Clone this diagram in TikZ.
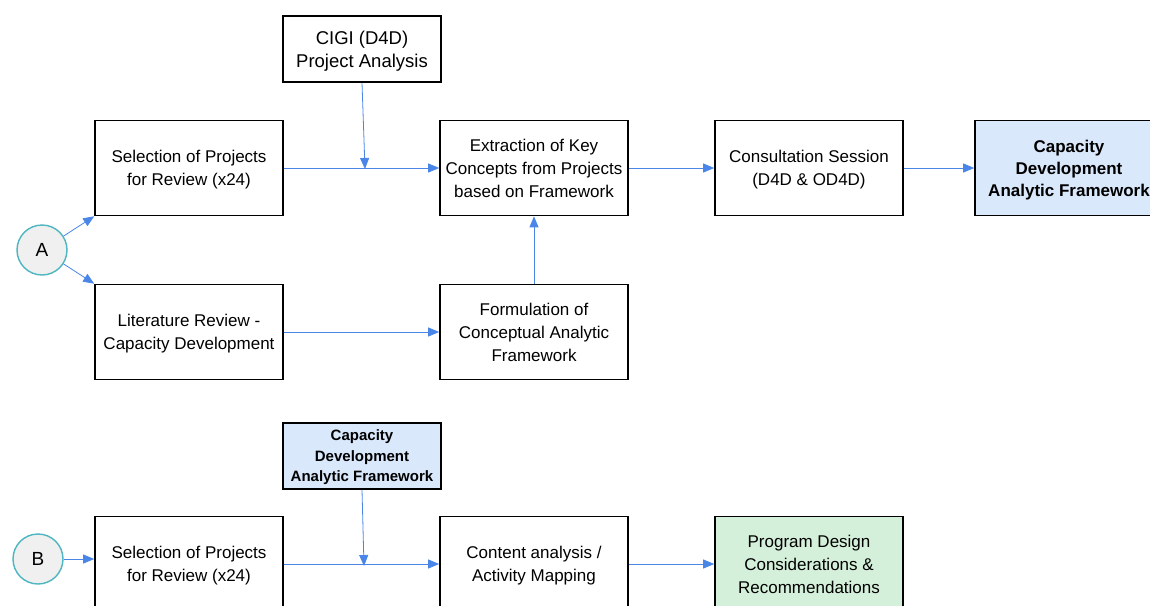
\documentclass[tikz,border=0pt]{standalone}
\usepackage{fontspec}
\setmainfont{Liberation Sans}
\usetikzlibrary{arrows.meta}
\definecolor{flowblue}{HTML}{4A86E8}
\definecolor{ringteal}{HTML}{4DB6C0}
\definecolor{paleblue}{HTML}{DAE8FC}
\definecolor{palegreen}{HTML}{D5F0DA}

\begin{document}
\begin{tikzpicture}[x=1pt, y=-1pt,
  every node/.style={font=\fontsize{17}{23}\selectfont, align=center},
  box/.style={draw, line width=1.6pt, minimum width=188pt, minimum height=95pt, inner sep=2pt},
  smallbox/.style={draw, line width=1.6pt, minimum width=158pt, minimum height=66pt, inner sep=2pt},
  lowered/.style={text depth=-8pt},
  start/.style={draw=ringteal, fill=gray!12, circle, line width=1.4pt, minimum size=50pt, inner sep=0pt, font=\fontsize{19}{23}\selectfont},
  flow/.style={draw=flowblue, line width=0.8pt, -{Triangle[length=11pt, width=9pt]}}]
\useasboundingbox (0,0) rectangle (1150,605);

% part A
\node[start] (a) at (42,250) {A};
\node[smallbox, lowered, font=\fontsize{18.5}{23}\selectfont] (cigi) at (362,49) {CIGI (D4D)\\Project Analysis};
\node[box, lowered] (sel1) at (189,168) {Selection of Projects\\for Review (x24)};
\node[box] (ext) at (534,168) {Extraction of Key\\Concepts from Projects\\based on Framework};
\node[box, lowered] (cons) at (809,168) {Consultation Session\\(D4D \& OD4D)};
\node[box, text depth=-6pt, fill=paleblue, font=\bfseries\fontsize{17}{22}\selectfont] (cdaf1) at (1069,168) {Capacity\\Development\\Analytic Framework};
\node[box, lowered] (lit) at (189,332) {Literature Review -\\Capacity Development};
\node[box] (form) at (534,332) {Formulation of\\Conceptual Analytic\\Framework};
\coordinate (j1) at (365,169);

\draw[flow] (a) -- (sel1.south west);
\draw[flow] (a) -- (lit.north west);
\draw[flow] (sel1) -- (ext);
\draw[flow] (cigi.south) -- (j1);
\draw[flow] (ext) -- (cons);
\draw[flow] (cons) -- (cdaf1);
\draw[flow] (form) -- (ext);
\draw[flow] (lit) -- (form);

% part B
\node[start] (b) at (38,559) {B};
\node[smallbox, lowered, fill=paleblue, font=\bfseries\fontsize{15}{20.5}\selectfont] (cdaf2) at (362,456) {Capacity\\Development\\Analytic Framework};
\node[box, lowered] (sel2) at (189,564) {Selection of Projects\\for Review (x24)};
\node[box, lowered] (cont) at (534,564) {Content analysis /\\Activity Mapping};
\node[box, fill=palegreen] (prog) at (809,564) {Program Design\\Considerations \&\\Recommendations};
\coordinate (j2) at (364,566);

\draw[flow] (b) -- (sel2.west |- b);
\draw[flow] (sel2) -- (cont);
\draw[flow] (cdaf2.south) -- (j2);
\draw[flow] (cont) -- (prog);
\end{tikzpicture}
\end{document}
